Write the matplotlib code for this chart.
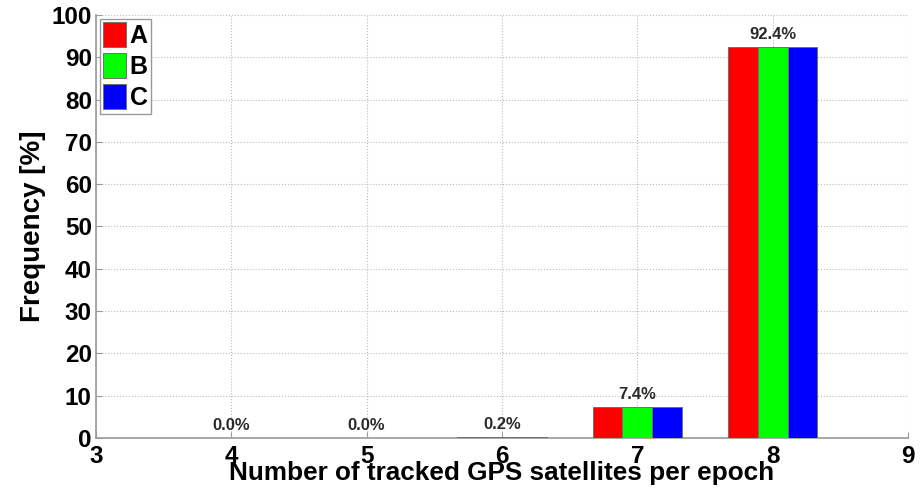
import matplotlib
matplotlib.use("Agg")
import matplotlib.pyplot as plt

plt.rcParams['font.family'] = ['Liberation Sans', 'DejaVu Sans']

# Number of tracked satellites per epoch and frequency [%] for each receiver
sats = [4, 5, 6, 7, 8]
series_names = ['A', 'B', 'C']
freq_a = [None, 0.0, 0.2, 7.4, 92.4]
freq_b = [0.0, 0.0, 0.2, 7.4, 92.4]
freq_c = [None, 0.0, 0.2, 7.4, 92.4]
value_labels = ['0.0%', '0.0%', '0.2%', '7.4%', '92.4%']
label_heights = [0.0, 0.0, 0.2, 7.4, 92.4]
colors = ['#ff0000', '#00ff00', '#0000ff']

fig = plt.figure(figsize=(9.22, 4.93), dpi=100)
ax = fig.add_axes([0.1041, 0.1116, 0.8807, 0.858])

width = 0.22
offsets = [-width, 0.0, width]
for name, vals, col, off in zip(series_names, [freq_a, freq_b, freq_c], colors, offsets):
    xs = [x + off for x, v in zip(sats, vals) if v is not None]
    hs = [v for v in vals if v is not None]
    ax.bar(xs, hs, width=width, color=col, edgecolor='#707070', linewidth=0.7,
           label=name, zorder=3)

for x, h, txt in zip(sats, label_heights, value_labels):
    ax.annotate(txt, (x, h), xytext=(0, 3.5), textcoords='offset points',
                ha='center', va='bottom', fontsize=12, fontweight='bold',
                color='#2a2a2a', zorder=4)

ax.set_xlim(3, 9)
ax.set_ylim(0, 100)
ax.set_xticks(range(3, 10))
ax.set_yticks(range(0, 101, 10))
ax.grid(True, linestyle=':', color='#bbbbbb', linewidth=0.8, zorder=0)
ax.set_axisbelow(True)

for s in ['top', 'right']:
    ax.spines[s].set_visible(False)
for s in ['left', 'bottom']:
    ax.spines[s].set_color('#999999')
    ax.spines[s].set_linewidth(1.2)

ax.tick_params(direction='in', length=4, color='#999999', labelsize=17.5)
ax.tick_params(axis='x', pad=5)
ax.tick_params(axis='y', pad=3)
for lbl in ax.get_xticklabels() + ax.get_yticklabels():
    lbl.set_fontweight('bold')

ax.set_xlabel('Number of tracked GPS satellites per epoch', fontsize=18.8,
              fontweight='bold', labelpad=-5)
ax.set_ylabel('Frequency [%]', fontsize=20, fontweight='bold', labelpad=4)

leg = ax.legend(loc='upper left', prop={'weight': 'bold', 'size': 18},
                handlelength=0.9, handleheight=1.15, handletextpad=0.15,
                labelspacing=0.2, borderpad=0.15, borderaxespad=0.15,
                fancybox=False, framealpha=1)
leg.get_frame().set_edgecolor('#999999')

fig.savefig('out.png', dpi=100)
